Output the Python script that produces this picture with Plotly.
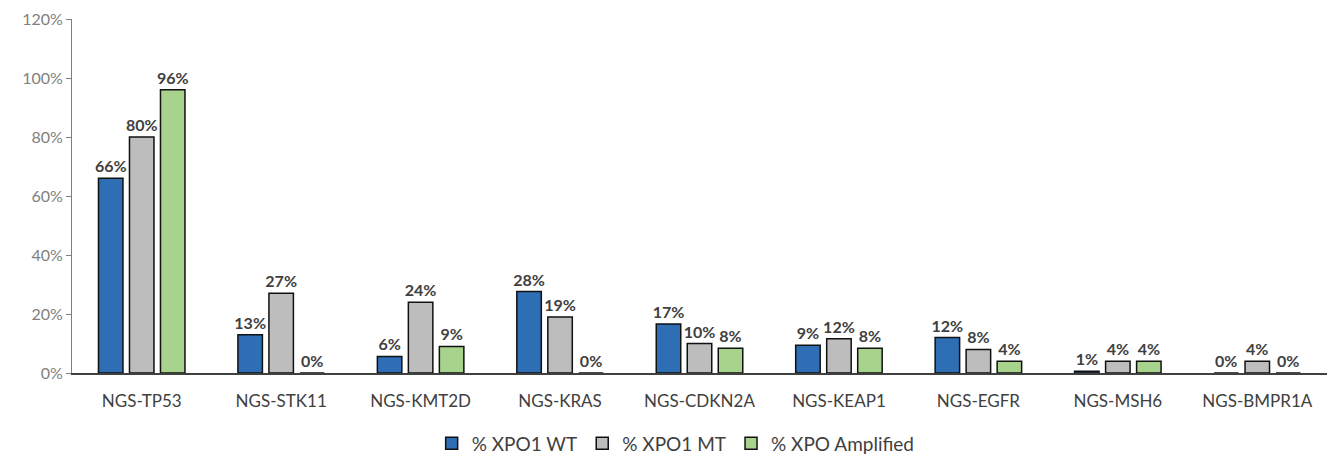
import plotly.graph_objects as go

categories = ["NGS-TP53", "NGS-STK11", "NGS-KMT2D", "NGS-KRAS", "NGS-CDKN2A",
              "NGS-KEAP1", "NGS-EGFR", "NGS-MSH6", "NGS-BMPR1A"]
xpo1_wt = [0.66, 0.13, 0.056, 0.276, 0.166, 0.094, 0.12, 0.006, 0.0]
xpo1_mt = [0.80, 0.27, 0.24, 0.19, 0.10, 0.116, 0.08, 0.04, 0.04]
xpo_amp = [0.96, 0.0, 0.09, 0.0, 0.084, 0.084, 0.04, 0.04, 0.0]
series_names = ["% XPO1 WT", "% XPO1 MT", "% XPO Amplified"]
colors = ["#2E6EB5", "#BDBDBD", "#A8D38D"]

fig = go.Figure()
for name, vals, col in zip(series_names, [xpo1_wt, xpo1_mt, xpo_amp], colors):
    fig.add_trace(go.Bar(
        x=categories, y=vals, name=name,
        marker=dict(color=col, line=dict(color="#111111", width=1.5)),
        texttemplate="<b>%{y:.0%}</b>", textposition="outside",
        constraintext="none",
        textfont=dict(family="Lato, Open Sans, sans-serif", size=16, color="#404040"),
        cliponaxis=False,
    ))

fig.update_layout(
    width=1339, height=461,
    margin=dict(l=64, r=20, t=11, b=96, autoexpand=False),
    plot_bgcolor="white", paper_bgcolor="white",
    barmode="group", bargap=0.333, bargroupgap=0.21,
    font=dict(family="Lato, Open Sans, sans-serif", size=16, color="#595959"),
    showlegend=True,
    legend=dict(orientation="h", x=0.481, xanchor="center", y=-0.145, yanchor="top",
                font=dict(size=19, color="#404040"), itemwidth=30,
                traceorder="normal"),
)
fig.update_yaxes(range=[0, 1.2], tickvals=[0, 0.2, 0.4, 0.6, 0.8, 1.0, 1.2],
                 tickformat=".0%", showgrid=False, zeroline=False,
                 showline=True, linecolor="#7f7f7f", linewidth=1,
                 ticks="outside", ticklen=5, tickcolor="#7f7f7f",
                 automargin=False, ticklabeloverflow="allow",
                 tickfont=dict(size=16, color="#808080"))
fig.update_xaxes(showgrid=False, showline=True, linecolor="#404040", linewidth=1.5,
                 ticks="", automargin=False, ticklabelstandoff=12,
                 ticklabeloverflow="allow",
                 tickfont=dict(size=17, color="#404040"))

fig.write_html("out.html")
